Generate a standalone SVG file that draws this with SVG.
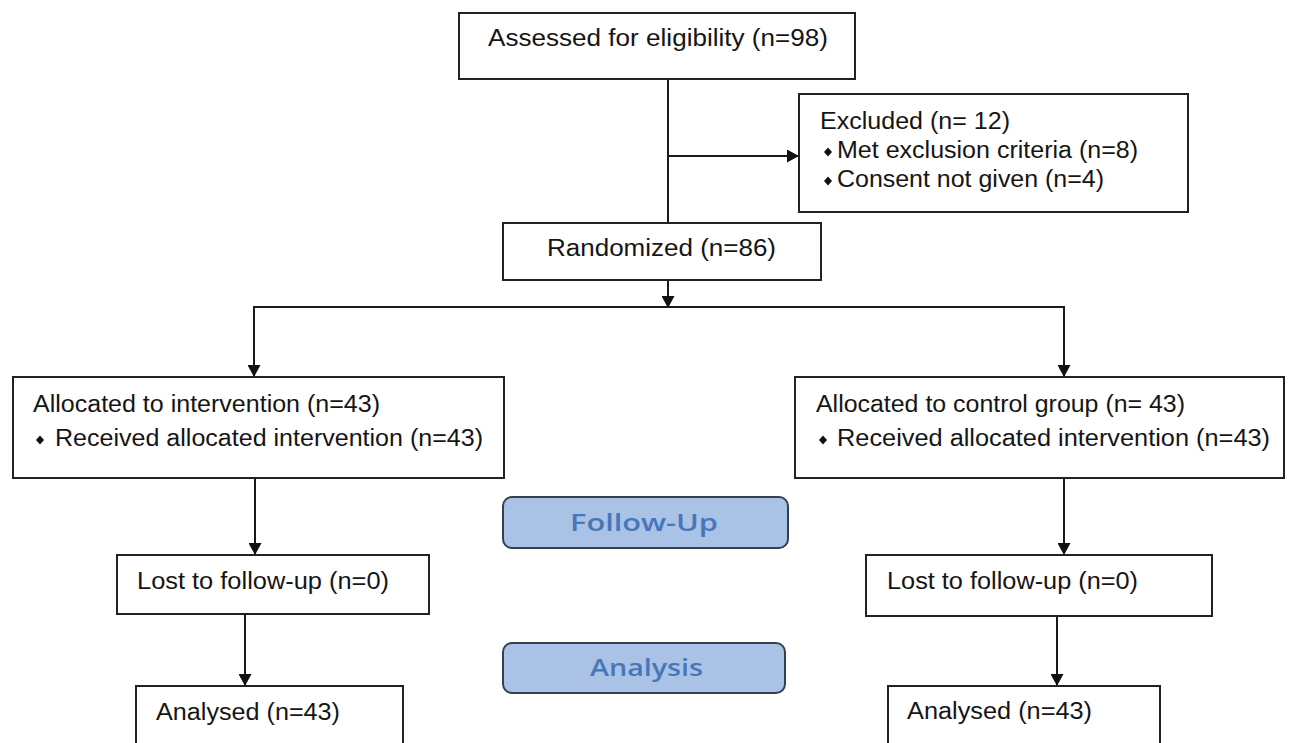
<svg xmlns="http://www.w3.org/2000/svg" width="1290" height="743" viewBox="0 0 1290 743">
<defs>
<marker id="arr" markerUnits="userSpaceOnUse" markerWidth="12" markerHeight="13" viewBox="0 0 12 13" refX="12" refY="6.5" orient="auto">
<path d="M0,0 L12,6.5 L0,13 z" fill="#111"/>
</marker>
<style>
.box{fill:#fff;stroke:#222;stroke-width:2}
.t{font-family:"Liberation Sans",Arial,sans-serif;font-size:23px;fill:#151515}
.phase{fill:#a9c2e6;stroke:#34404f;stroke-width:2}
.pt{font-family:"Open Sans","Liberation Sans",sans-serif;font-weight:600;font-size:24px;fill:#4677b8}
.c{fill:none;stroke:#1a1a1a;stroke-width:2}
.b{fill:#111}
</style>
</defs>
<rect width="1290" height="743" fill="#fff"/>
<g id="connectors">
<line class="c" x1="668" y1="79" x2="668" y2="223"/>
<line class="c" x1="668" y1="156" x2="799" y2="156" marker-end="url(#arr)"/>
<line class="c" x1="668" y1="280" x2="668" y2="308" marker-end="url(#arr)"/>
<polyline class="c" points="254,377 254,307 1064,307 1064,377"/>
<line class="c" x1="254" y1="307" x2="254" y2="377" marker-end="url(#arr)"/>
<line class="c" x1="1064" y1="307" x2="1064" y2="377" marker-end="url(#arr)"/>
<line class="c" x1="255" y1="478" x2="255" y2="555" marker-end="url(#arr)"/>
<line class="c" x1="1064" y1="478" x2="1064" y2="555" marker-end="url(#arr)"/>
<line class="c" x1="245" y1="614" x2="245" y2="686" marker-end="url(#arr)"/>
<line class="c" x1="1057" y1="616" x2="1057" y2="686" marker-end="url(#arr)"/>
</g>
<g id="assessed">
<rect class="box" x="459" y="13" width="396" height="66"/>
<text class="t" x="488" y="46" textLength="340" lengthAdjust="spacingAndGlyphs">Assessed for eligibility (n=98)</text>
</g>
<g id="excluded">
<rect class="box" x="799" y="94" width="389" height="118"/>
<text class="t" x="820" y="129" textLength="190" lengthAdjust="spacingAndGlyphs">Excluded (n= 12)</text>
<polygon class="b" points="828,147.5 832,152 828,156.5 824,152"/>
<text class="t" x="837" y="158" textLength="301" lengthAdjust="spacingAndGlyphs">Met exclusion criteria (n=8)</text>
<polygon class="b" points="828,176.5 832,181 828,185.5 824,181"/>
<text class="t" x="837" y="187" textLength="267" lengthAdjust="spacingAndGlyphs">Consent not given (n=4)</text>
</g>
<g id="randomized">
<rect class="box" x="503" y="223" width="318" height="57"/>
<text class="t" x="547" y="256" textLength="229" lengthAdjust="spacingAndGlyphs">Randomized (n=86)</text>
</g>
<g id="alloc-intervention">
<rect class="box" x="13" y="377" width="491" height="101"/>
<text class="t" x="33" y="412" textLength="347" lengthAdjust="spacingAndGlyphs">Allocated to intervention (n=43)</text>
<polygon class="b" points="40,435.5 44,440 40,444.5 36,440"/>
<text class="t" x="55" y="446" textLength="428" lengthAdjust="spacingAndGlyphs">Received allocated intervention (n=43)</text>
</g>
<g id="alloc-control">
<rect class="box" x="795" y="377" width="489" height="101"/>
<text class="t" x="816" y="412" textLength="369" lengthAdjust="spacingAndGlyphs">Allocated to control group (n= 43)</text>
<polygon class="b" points="823,435.5 827,440 823,444.5 819,440"/>
<text class="t" x="837" y="446" textLength="433" lengthAdjust="spacingAndGlyphs">Received allocated intervention (n=43)</text>
</g>
<g id="followup-label">
<rect class="phase" x="503" y="497" width="285" height="51" rx="9"/>
<text class="pt" x="570" y="531" textLength="148" lengthAdjust="spacingAndGlyphs">Follow-Up</text>
</g>
<g id="lost-left">
<rect class="box" x="117" y="555" width="312" height="59"/>
<text class="t" x="137" y="589" textLength="252" lengthAdjust="spacingAndGlyphs">Lost to follow-up (n=0)</text>
</g>
<g id="lost-right">
<rect class="box" x="866" y="555" width="346" height="61"/>
<text class="t" x="887" y="589" textLength="251" lengthAdjust="spacingAndGlyphs">Lost to follow-up (n=0)</text>
</g>
<g id="analysis-label">
<rect class="phase" x="503" y="643" width="282" height="50" rx="9"/>
<text class="pt" x="590" y="676" textLength="113" lengthAdjust="spacingAndGlyphs">Analysis</text>
</g>
<g id="analysed-left">
<rect class="box" x="136" y="686" width="267" height="70"/>
<text class="t" x="156" y="720" textLength="184" lengthAdjust="spacingAndGlyphs">Analysed (n=43)</text>
</g>
<g id="analysed-right">
<rect class="box" x="888" y="686" width="272" height="70"/>
<text class="t" x="907" y="719" textLength="185" lengthAdjust="spacingAndGlyphs">Analysed (n=43)</text>
</g>
</svg>
